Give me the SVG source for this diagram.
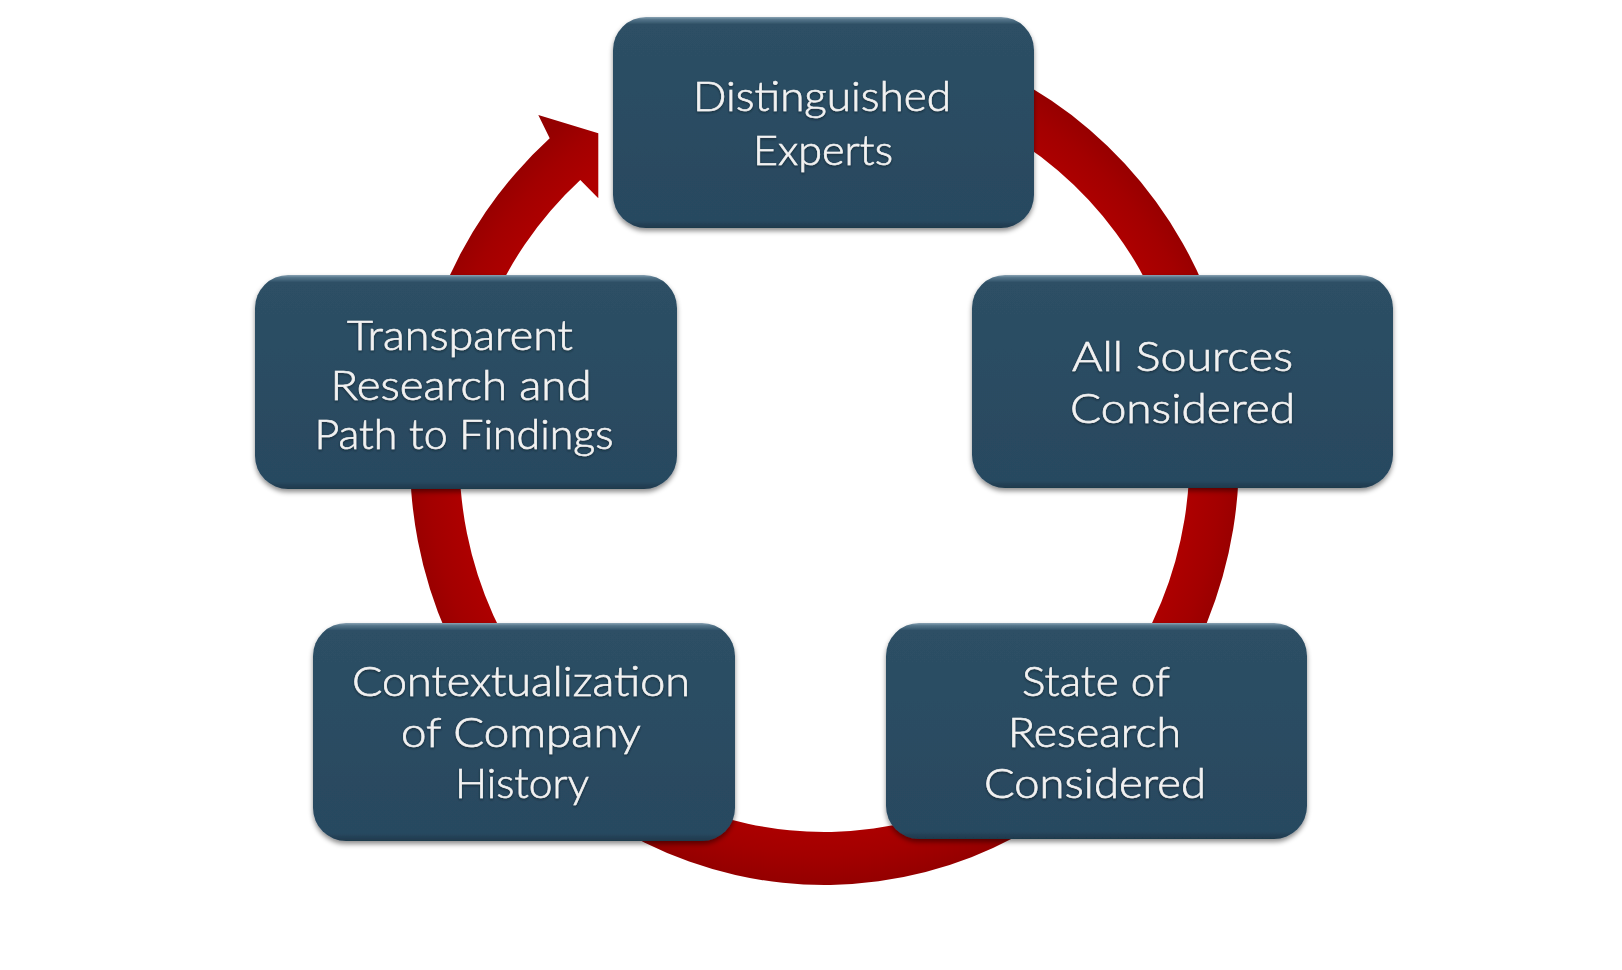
<svg xmlns="http://www.w3.org/2000/svg" width="1622" height="970" viewBox="0 0 1622 970">
  <defs>
    <linearGradient id="boxGrad" x1="0" y1="0" x2="0" y2="1">
      <stop offset="0" stop-color="#8AA3B4"/>
      <stop offset="0.012" stop-color="#55758A"/>
      <stop offset="0.035" stop-color="#2D4F65"/>
      <stop offset="0.5" stop-color="#2A4C62"/>
      <stop offset="0.965" stop-color="#284860"/>
      <stop offset="1" stop-color="#1E394B"/>
    </linearGradient>
    <radialGradient id="ringGrad" gradientUnits="userSpaceOnUse" cx="824.5" cy="458" r="427">
      <stop offset="0.84" stop-color="#B00000"/>
      <stop offset="0.93" stop-color="#A30000"/>
      <stop offset="1" stop-color="#940000"/>
    </radialGradient>
    <filter id="boxShadow" x="-10%" y="-10%" width="120%" height="125%">
      <feDropShadow dx="0" dy="3" stdDeviation="2.5" flood-color="#000" flood-opacity="0.45"/>
    </filter>
    <filter id="textShadow" x="-5%" y="-20%" width="110%" height="140%">
      <feDropShadow dx="0" dy="1.2" stdDeviation="1" flood-color="#0A1A24" flood-opacity="0.7"/>
    </filter>
  </defs>
  <style>
    .box { fill: url(#boxGrad); filter: url(#boxShadow); }
    .lbl { font-family: Lato, "Open Sans", "Liberation Sans", sans-serif; font-weight: 300; font-size: 41px; fill: #F2F2F2; stroke: #F2F2F2; stroke-width: 0.6px; text-anchor: middle; filter: url(#textShadow); }
    .ring { fill: url(#ringGrad); }
  </style>
  <rect width="1622" height="970" fill="#FFFFFF"/>

  <g id="connectors">
    <path class="ring" d="M 824.5 31 A 414.5 427 0 1 1 549.7 138.3 L 538.3 115 L 598.3 133.3 L 598.3 198.3 L 580.3 180 A 365 374 0 1 0 824.5 84 Z"/>
  </g>

  <g id="node-distinguished-experts">
    <rect class="box" x="613" y="17" width="421" height="211" rx="33" ry="33"/>
    <text class="lbl" x="822" y="111" textLength="258" lengthAdjust="spacingAndGlyphs">Distinguished</text>
    <text class="lbl" x="823" y="165" textLength="140" lengthAdjust="spacingAndGlyphs">Experts</text>
  </g>

  <g id="node-all-sources">
    <rect class="box" x="972" y="275" width="421" height="213" rx="33" ry="33"/>
    <text class="lbl" x="1182.5" y="371" textLength="221" lengthAdjust="spacingAndGlyphs">All Sources</text>
    <text class="lbl" x="1182.5" y="423" textLength="225" lengthAdjust="spacingAndGlyphs">Considered</text>
  </g>

  <g id="node-transparent-research">
    <rect class="box" x="255" y="275" width="422" height="214" rx="33" ry="33"/>
    <text class="lbl" x="460" y="350" textLength="226" lengthAdjust="spacingAndGlyphs">Transparent</text>
    <text class="lbl" x="461" y="400" textLength="261" lengthAdjust="spacingAndGlyphs">Research and</text>
    <text class="lbl" x="464" y="449" textLength="299" lengthAdjust="spacingAndGlyphs">Path to Findings</text>
  </g>

  <g id="node-contextualization">
    <rect class="box" x="313" y="623" width="422" height="218" rx="33" ry="33"/>
    <text class="lbl" x="521" y="696" textLength="338" lengthAdjust="spacingAndGlyphs">Contextualization</text>
    <text class="lbl" x="521" y="747" textLength="240" lengthAdjust="spacingAndGlyphs">of Company</text>
    <text class="lbl" x="522" y="798" textLength="134" lengthAdjust="spacingAndGlyphs">History</text>
  </g>

  <g id="node-state-of-research">
    <rect class="box" x="886" y="623" width="421" height="216" rx="33" ry="33"/>
    <text class="lbl" x="1096" y="696" textLength="148" lengthAdjust="spacingAndGlyphs">State of</text>
    <text class="lbl" x="1094.5" y="747" textLength="173" lengthAdjust="spacingAndGlyphs">Research</text>
    <text class="lbl" x="1095" y="798" textLength="222" lengthAdjust="spacingAndGlyphs">Considered</text>
  </g>
</svg>
